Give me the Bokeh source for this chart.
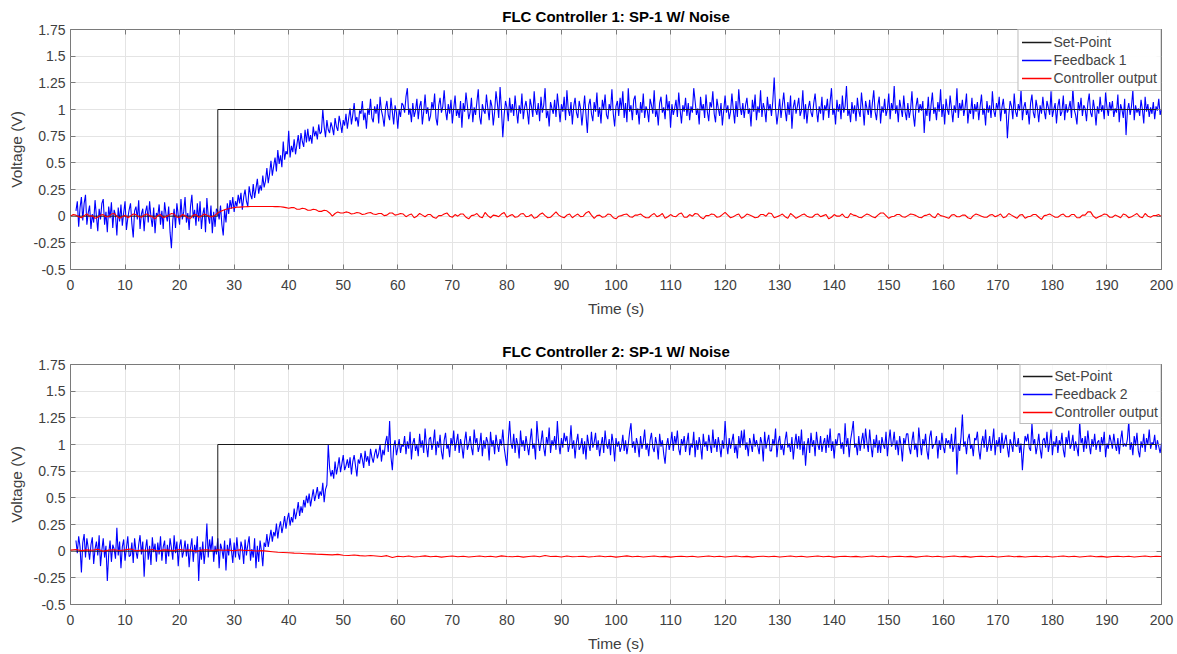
import numpy as np
from bokeh.plotting import figure
from bokeh.models import LinearAxis, FixedTicker, Legend, LegendItem, Range1d
from bokeh.layouts import column
from bokeh.embed import file_html
from bokeh.resources import INLINE

# ---------------- data ----------------
x_ticks = list(range(0, 201, 10))
y_ticks = [-0.5, -0.25, 0, 0.25, 0.5, 0.75, 1, 1.25, 1.5, 1.75]
y_tick_labels = ["-0.5", "-0.25", "0", "0.25", "0.5", "0.75", "1", "1.25", "1.5", "1.75"]

titles = ["FLC Controller 1: SP-1 W/ Noise", "FLC Controller 2: SP-1 W/ Noise"]
feedback_labels = ["Feedback 1", "Feedback 2"]

setpoint_t = [0, 27, 27, 200]
setpoint_v = [0, 0, 1, 1]

# feedback samples every 0.25 s starting at t = 1 s, in hundredths of a volt
feedback_start = 1.0
feedback_step = 0.25
feedback1 = [
    5, 14, -10, 8, 18, -4, 12, 20, -8, 3,
    10, -12, 2, -6, 15, 0, -14, 7, -3, 12,
    16, -8, 4, -15, 9, -2, 13, -11, 6, 1,
    -18, 8, -5, 11, -9, 3, 14, -13, -2, 6,
    12, -7, -20, 5, 9, -3, 15, -12, 2, 7,
    -14, 4, 10, -6, 14, -1, -10, 8, -16, 3,
    0, 11, -8, 5, -12, 13, 2, -5, 9, -15,
    -30, -4, 7, -11, 12, 1, -8, 16, -3, 4,
    18, -6, 3, -13, 9, 20, -2, 6, -9, 12,
    -5, 14, -12, 2, 8, -15, 17, 0, -7, 10,
    -16, 4, -10, 7, 5, -3, 10, -8, -18, 6,
    -6, 12, 2, 15, 7, 18, 4, 14, 9, 20,
    12, 22, 6, 18, 25, 14, 9, 28, 20, 16,
    30, 17, 26, 35, 21, 29, 24, 38, 27, 33,
    45, 31, 40, 52, 38, 47, 55, 42, 62, 49,
    57, 46, 70, 53, 61, 58, 80, 55, 66, 60,
    72, 58, 67, 76, 63, 78, 70, 65, 81, 69,
    82, 70, 76, 68, 84, 75, 80, 72, 86, 77,
    79, 100, 84, 74, 90, 81, 78, 88, 83, 76,
    92, 84, 80, 94, 87, 78, 90, 85, 96, 82,
    92, 101, 86, 95, 106, 89, 93, 84, 99, 96,
    108, 90, 97, 82, 101, 95, 110, 92, 88, 103,
    96, 105, 87, 112, 99, 93, 84, 101, 108, 95,
    90, 111, 98, 86, 104, 97, 82, 100, 93, 106,
    104, 97, 112, 120, 95, 101, 88, 106, 93, 99,
    110, 91, 103, 108, 86, 98, 114, 96, 102, 89,
    94, 107, 100, 115, 92, 85, 104, 111, 97, 103,
    118, 99, 90, 105, 96, 109, 87, 101, 113, 94,
    100, 92, 108, 83, 106, 98, 116, 104, 91, 97,
    111, 88, 102, 95, 107, 119, 93, 86, 105, 99,
    96, 114, 101, 90, 109, 103, 85, 98, 117, 106,
    92, 121, 100, 74, 95, 108, 102, 89, 111, 97,
    105, 94, 113, 99, 87, 104, 96, 115, 91, 102,
    108, 98, 86, 110, 103, 93, 117, 100, 95, 106,
    89, 112, 97, 104, 120, 92, 99, 84, 107, 101,
    96, 109, 93, 115, 102, 88, 105, 98, 112, 90,
    118, 100, 94, 107, 86, 103, 111, 97, 92, 108,
    101, 85, 99, 113, 95, 78, 104, 110, 96, 89,
    107, 98, 116, 93, 102, 87, 109, 100, 114, 95,
    91, 105, 99, 119, 96, 84, 103, 108, 94, 111,
    100, 117, 92, 106, 88, 120, 98, 104, 90, 109,
    113, 95, 101, 86, 107, 97, 115, 92, 103, 99,
    88, 110, 104, 96, 118, 93, 100, 85, 106, 112,
    97, 102, 91, 114, 99, 108, 83, 105, 95, 101,
    109, 93, 116, 100, 87, 104, 98, 111, 94, 106,
    90, 103, 97, 120, 108, 95, 101, 86, 112, 99,
    105, 92, 114, 98, 89, 107, 102, 117, 96, 88,
    110, 101, 94, 106, 85, 99, 113, 97, 104, 91,
    98, 115, 100, 87, 108, 93, 119, 102, 95, 106,
    92, 104, 111, 96, 101, 84, 109, 98, 114, 90,
    103, 97, 118, 93, 106, 100, 88, 112, 99, 105,
    94, 108, 130, 101, 86, 97, 110, 92, 104, 116,
    100, 89, 107, 95, 113, 82, 102, 109, 96, 103,
    111, 94, 99, 118, 91, 105, 87, 101, 108, 97,
    93, 106, 115, 100, 88, 103, 96, 112, 90, 104,
    99, 110, 92, 107, 120, 95, 101, 86, 109, 98,
    105, 91, 113, 97, 103, 122, 94, 100, 88, 107,
    96, 104, 89, 111, 99, 93, 116, 102, 85, 108,
    101, 95, 109, 92, 106, 118, 98, 90, 104, 112,
    87, 103, 97, 110, 94, 100, 115, 91, 106, 99,
    122, 96, 104, 88, 109, 101, 93, 113, 98, 90,
    106, 92, 100, 117, 95, 84, 103, 111, 97, 105,
    99, 108, 78, 101, 94, 112, 89, 104, 116, 96,
    102, 90, 107, 98, 119, 93, 105, 86, 110, 100,
    95, 113, 101, 88, 104, 97, 120, 92, 106, 99,
    109, 94, 102, 115, 87, 100, 96, 111, 91, 105,
    98, 107, 90, 103, 114, 95, 101, 85, 108, 97,
    104, 92, 117, 99, 93, 106, 100, 112, 89, 102,
    110, 96, 101, 73, 94, 108, 103, 91, 115, 98,
    93, 105, 99, 118, 90, 102, 107, 95, 100, 86,
    106, 114, 97, 92, 109, 101, 88, 104, 96, 112,
    99, 91, 108, 102, 95, 117, 93, 100, 106, 87,
    103, 110, 94, 98, 113, 90, 105, 97, 101, 108,
    92, 120, 100, 95, 86, 107, 99, 111, 94, 104,
    101, 89, 106, 115, 97, 93, 109, 100, 85, 103,
    96, 112, 98, 104, 91, 116, 102, 94, 107, 99,
    108, 93, 101, 97, 114, 88, 105, 100, 92, 110,
    76, 99, 106, 95, 103, 118, 90, 104, 97, 101,
    94, 109, 100, 87, 112, 98, 105, 93, 102, 96,
    107, 91, 103, 99, 110, 95, 100,
]
feedback2 = [
    10, -2, 14, 4, -20, 8, 16, -6, 12, 3,
    -8, 6, 13, -12, 2, 9, -4, 15, -14, 1,
    12, -6, 5, -28, -3, 10, -10, 6, 2, -7,
    22, -4, 9, -16, 4, 11, -9, 3, 14, -5,
    -4, 8, -11, 12, 0, -7, 6, 15, -3, 9,
    -24, 2, 11, -8, 5, -13, 13, -1, 7, -10,
    8, -3, 14, -9, 4, 10, -12, 6, -5, 12,
    3, -8, 15, -2, 9, -14, 5, 11, -6, 0,
    10, -5, 7, -15, 3, 12, -10, 6, -2, 14,
    -28, 4, -8, 9, -12, 2, 26, -6, 11, 0,
    14, -10, 5, -3, 12, -16, 7, 2, -7, 10,
    -18, 6, -4, 12, 1, -11, 8, -6, 13, -2,
    -8, 9, 3, -12, 11, -4, 6, 14, -9, 2,
    -6, 12, -16, 5, -10, 10, 0, -14, 8, 4,
    16, 4, 12, 20, 9, 18, 14, 26, 12, 22,
    28, 17, 24, 33, 21, 30, 36, 24, 32, 27,
    40, 30, 37, 46, 33, 42, 36, 48, 41, 52,
    45, 54, 42, 50, 58, 47, 53, 60, 49, 56,
    52, 64, 46, 58, 62, 100, 78, 70, 76, 68,
    84, 72, 79, 88, 74, 82, 90, 76, 80, 86,
    78, 88, 72, 84, 90, 80, 70, 86, 82, 92,
    86, 78, 94, 84, 89, 80, 96, 88, 83, 91,
    96, 87, 92, 100, 84, 95, 90, 102, 108, 93,
    122, 88, 76, 98, 104, 90, 97, 105, 92, 100,
    98, 108, 91, 103, 96, 112, 86, 101, 106, 94,
    100, 89, 110, 97, 104, 92, 115, 99, 88, 105,
    107, 95, 101, 114, 90, 103, 97, 109, 93, 86,
    104, 111, 96, 100, 88, 106, 99, 113, 94, 102,
    110, 92, 105, 98, 87, 103, 112, 95, 100, 108,
    97, 90, 114, 101, 106, 93, 99, 111, 89, 104,
    96, 107, 102, 85, 112, 98, 104, 91, 109, 100,
    93, 105, 99, 114, 97, 88, 80, 104, 122, 101,
    96, 110, 92, 106, 100, 87, 113, 98, 104, 94,
    108, 99, 90, 103, 115, 96, 101, 86, 122, 105,
    94, 102, 113, 97, 89, 107, 100, 116, 92, 104,
    99, 108, 95, 122, 101, 91, 106, 97, 111, 103,
    108, 93, 100, 118, 96, 104, 87, 102, 110, 95,
    98, 106, 91, 103, 86, 109, 100, 94, 112, 97,
    102, 111, 95, 104, 89, 99, 107, 92, 113, 100,
    96, 105, 90, 110, 101, 84, 106, 98, 103, 93,
    98, 109, 94, 104, 91, 100, 112, 120, 97, 103,
    92, 106, 100, 88, 108, 96, 102, 114, 95, 101,
    89, 104, 111, 97, 93, 107, 100, 86, 110, 98,
    104, 91, 82, 99, 106, 95, 101, 112, 94, 108,
    100, 113, 96, 90, 105, 99, 108, 93, 102, 111,
    90, 101, 97, 112, 88, 104, 95, 107, 99, 86,
    110, 98, 103, 94, 109, 100, 92, 114, 97, 105,
    93, 107, 99, 88, 104, 96, 122, 101, 91, 106,
    96, 103, 110, 92, 100, 87, 108, 97, 113, 99,
    114, 95, 102, 89, 106, 100, 93, 110, 98, 104,
    98, 91, 107, 101, 84, 112, 96, 103, 109, 94,
    94, 105, 99, 115, 88, 102, 108, 95, 100, 90,
    104, 112, 97, 101, 93, 107, 86, 100, 110, 96,
    108, 95, 114, 90, 103, 80, 99, 106, 92, 111,
    98, 104, 89, 112, 100, 95, 108, 93, 101, 106,
    92, 109, 97, 115, 94, 103, 87, 105, 99, 110,
    110, 96, 102, 91, 120, 98, 106, 88, 104, 112,
    122, 97, 101, 90, 108, 94, 103, 111, 96, 115,
    102, 93, 114, 99, 88, 105, 97, 109, 92, 104,
    92, 107, 100, 96, 112, 89, 103, 114, 98, 101,
    112, 95, 104, 90, 108, 99, 84, 106, 100, 110,
    110, 97, 91, 103, 112, 95, 101, 88, 116, 102,
    90, 105, 99, 110, 94, 86, 107, 113, 96, 100,
    100, 108, 87, 104, 95, 111, 98, 92, 106, 101,
    104, 96, 110, 93, 99, 116, 72, 101, 94, 107,
    128, 98, 103, 91, 105, 110, 96, 100, 89, 106,
    104, 112, 95, 86, 101, 108, 97, 114, 93, 99,
    108, 94, 102, 115, 90, 104, 98, 107, 92, 111,
    96, 103, 109, 97, 88, 105, 100, 93, 112, 99,
    98, 106, 92, 101, 76, 95, 108, 103, 110, 97,
    94, 120, 100, 105, 91, 99, 110, 96, 87, 104,
    106, 97, 112, 93, 101, 114, 90, 103, 98, 108,
    92, 104, 99, 111, 95, 88, 107, 100, 113, 96,
    100, 109, 94, 103, 97, 89, 122, 101, 106, 93,
    108, 96, 113, 100, 91, 105, 98, 110, 95, 102,
    104, 93, 107, 99, 112, 88, 101, 96, 109, 103,
    96, 110, 100, 94, 106, 91, 104, 113, 98, 101,
    98, 105, 122, 95, 102, 90, 108, 99, 111, 94,
    88, 103, 97, 110, 93, 106, 100, 114, 96, 102,
    100, 109, 95, 104, 98, 92, 101,
]

# controller output 1 every 0.5 s starting at t = 0 s, in thousandths of a volt
control1_start = 0.0
control1_step = 0.5
control1 = [
    0, 15, 10, -5, -15, 5, 20, 0, 5, -20, -10, 10, 15, -5, -5, 20, 25, 0, -20, -5,
    10, -15, 0, 20, 15, -5, -10, 10, 20, 5, -5, -25, 5, 15, -15, -5, 10, 25, 20, -10,
    -10, 15, 5, -15, -20, 10, 15, -10, 0, 20, 10, -5, -5, 10, 30, 45, 55, 65, 70, 76,
    80, 83, 85, 87, 88, 89, 90, 90, 90, 91, 90, 90, 90, 90, 90, 89, 90, 88, 85, 80,
    75, 80, 80, 65, 65, 75, 70, 55, 55, 65, 60, 45, 45, 55, 50, 30, 0, 25, 40, 30,
    30, 40, 35, 20, 25, 35, 30, 15, 20, 30, 35, 20, 15, 25, 25, 5, 10, 30, 30, 10,
    15, 25, 20, -5, 10, 20, -15, 0, 25, 10, -5, 15, 15, -10, -20, 5, 5, 20, 30, 0,
    -10, 15, 0, 20, 20, -10, -25, 5, 10, 25, -5, -15, 35, 5, -15, 10, 5, -5, 20, 35,
    -10, 5, 15, -10, -5, 20, 25, -5, 0, 15, -20, -10, 15, 30, 5, -15, -10, 15, 40, 10,
    -5, -15, 10, 20, -15, 5, 20, -5, 0, 30, 45, 10, -20, 5, 10, -10, -5, 20, 15, -15,
    -25, 0, 5, 15, 20, -5, -10, 10, 10, 20, 0, -15, -15, 10, 25, -5, 5, 25, -20, -5,
    15, 0, -5, 20, 30, -10, -10, 15, 0, 25, 20, -10, -25, 5, 5, 20, 15, -10, -5, 15,
    35, 10, -15, -5, 10, 20, -20, -5, 20, 10, 0, -15, -10, 15, 15, 0, 30, 25, -15, -5,
    5, 20, -5, -20, 25, 5, -20, -5, 10, 20, 0, -10, -10, 15, 20, -5, 5, 15, -25, -10,
    15, 0, 0, 20, -10, -15, 25, 10, 5, -10, -15, 5, 20, 10, -5, -15, 10, 30, 30, 5,
    -20, -5, 0, 15, 15, -5, -10, 5, 20, 15, 5, -10, -15, 5, 10, 20, -5, -15, 25, 5,
    0, -10, -20, 10, 15, -5, -5, 10, 10, -15, -25, 5, 20, 10, 0, -10, -10, 10, 15, -5,
    5, 20, -15, -5, 25, 10, -5, -20, 10, 15, -20, -5, 0, 15, 15, -10, -30, 5, 10, 20,
    5, -10, -10, 10, 20, -5, -5, 15, 15, -15, -15, 10, 10, 40, 40, 0, -20, -5, 5, 20,
    15, -10, -10, 10, 0, -15, 20, 10, -15, -5, 10, 25, -5, -15, 25, 0, -10, 5, 5, 15,
    -5,
]

# controller output 2 every 1 s starting at t = 0 s, in thousandths of a volt
control2_start = 0.0
control2_step = 1.0
control2 = [
    10, 15, 5, 12, 8, 18, 0, 10, 14, 6, 12, 20, 4, 10, 8, 15, 2, 12, 10, 6,
    16, 8, 12, 0, 10, 14, 6, 12, 8, 10, 4, 12, 6, 8, 2, 5,
    0, -5, -10, -12, -15, -18, -20, -24, -25, -28, -30, -32, -35, -30, -38, -40, -36, -42, -45, -40,
    -45, -50, -42, -60, -48, -52, -46, -55, -50, -44, -52, -48, -56, -50, -45, -52, -48, -55, -50, -46,
    -52, -48, -55, -44, -50, -53, -47, -56, -50, -45, -52, -40, -50, -48, -55, -46, -52, -50, -47, -54,
    -50, -45, -52, -48, -56, -50, -44, -52, -48, -55, -50, -46, -53, -49, -56, -50, -47, -52, -48, -54,
    -50, -46, -52, -48, -55, -50, -45, -52, -49, -56, -50, -47, -53, -48, -54, -50, -46, -52, -48, -55,
    -50, -45, -52, -48, -56, -50, -47, -53, -49, -55, -50, -46, -52, -48, -54, -50, -47, -53, -49, -56,
    -50, -46, -52, -48, -55, -50, -45, -53, -49, -56, -50, -47, -52, -48, -54, -50, -46, -52, -49, -55,
    -50, -47, -53, -48, -54, -50, -45, -52, -48, -55, -50, -46, -53, -49, -56, -50, -47, -52, -48, -54,
    -50, -46, -52, -48, -50,
]

# ---------------- styling ----------------
FONT = "Liberation Sans"
AXIS_COLOR = "#7a7a7a"
TEXT_COLOR = "#404040"
GRID_COLOR = "#e4e4e4"
SP_COLOR = "#1a1a1a"
FB_COLOR = "#0000ff"
CTRL_COLOR = "#ff0000"


def style_axis(ax, show_labels):
    ax.major_tick_in = 5
    ax.major_tick_out = 0
    ax.minor_tick_line_color = None
    ax.major_tick_line_color = AXIS_COLOR
    ax.axis_line_color = None
    ax.major_label_text_font = FONT
    ax.axis_label_text_font = FONT
    ax.axis_label_text_color = TEXT_COLOR
    ax.axis_label_text_font_style = "normal"
    if show_labels:
        ax.major_label_text_color = TEXT_COLOR
        ax.major_label_text_font_size = "14px"
        ax.axis_label_text_font_size = "15.5px"
    else:
        ax.major_label_text_color = None
        ax.major_label_text_font_size = "1px"
        ax.major_label_standoff = 0


def make_panel(idx, fb, ctrl, c_start, c_step, legend_padding):
    p = figure(width=1177, height=319, output_backend="svg", toolbar_location=None,
               x_range=Range1d(0, 200), y_range=Range1d(-0.5, 1.75),
               min_border_left=70, min_border_right=16,
               min_border_top=29, min_border_bottom=50,
               title=titles[idx])
    p.title.align = "center"
    p.title.text_font = FONT
    p.title.text_font_size = "15px"
    p.title.text_font_style = "bold"
    p.title.text_color = "#000000"
    p.title.standoff = 9
    p.background_fill_color = "white"
    p.border_fill_color = "white"
    p.outline_line_color = AXIS_COLOR
    p.outline_line_width = 1

    xt = FixedTicker(ticks=x_ticks)
    yt = FixedTicker(ticks=y_ticks)
    overrides = {v: s for v, s in zip(y_ticks, y_tick_labels)}

    p.xaxis.ticker = xt
    p.yaxis.ticker = yt
    p.yaxis.major_label_overrides = overrides
    p.xaxis.axis_label = "Time (s)"
    p.yaxis.axis_label = "Voltage (V)"
    for ax in p.xaxis + p.yaxis:
        style_axis(ax, True)
    p.xaxis.major_label_standoff = 10
    p.xaxis.axis_label_standoff = 7
    p.yaxis.major_label_standoff = 5
    p.yaxis.axis_label_standoff = 6

    top_ax = LinearAxis(ticker=FixedTicker(ticks=x_ticks))
    right_ax = LinearAxis(ticker=FixedTicker(ticks=y_ticks))
    style_axis(top_ax, False)
    style_axis(right_ax, False)
    p.add_layout(top_ax, "above")
    p.add_layout(right_ax, "right")

    p.xgrid.ticker = xt
    p.ygrid.ticker = yt
    p.xgrid.grid_line_color = GRID_COLOR
    p.ygrid.grid_line_color = GRID_COLOR

    fb_t = feedback_start + feedback_step * np.arange(len(fb))
    fb_v = np.array(fb) / 100.0
    c_t = c_start + c_step * np.arange(len(ctrl))
    c_v = np.array(ctrl) / 1000.0

    r_fb = p.line(fb_t, fb_v, line_color=FB_COLOR, line_width=1.1)
    r_sp = p.line(setpoint_t, setpoint_v, line_color=SP_COLOR, line_width=1)
    r_c = p.line(c_t, c_v, line_color=CTRL_COLOR, line_width=1.1)

    # legend swatches: one-sample lines (a one-point line draws nothing),
    # slightly heavier so the thin coloured strokes keep their hue
    k_sp = p.line(setpoint_t[:1], setpoint_v[:1], line_color=SP_COLOR, line_width=1.3)
    k_fb = p.line(fb_t[:1], fb_v[:1], line_color=FB_COLOR, line_width=1.3)
    k_c = p.line(c_t[:1], c_v[:1], line_color=CTRL_COLOR, line_width=1.3)

    legend = Legend(items=[
        LegendItem(label="Set-Point", renderers=[k_sp]),
        LegendItem(label=feedback_labels[idx], renderers=[k_fb]),
        LegendItem(label="Controller output", renderers=[k_c]),
    ], location="top_right", margin=0, padding=legend_padding, spacing=0,
        label_height=18, glyph_height=18, glyph_width=30, label_standoff=2,
        label_text_font=FONT, label_text_font_size="14px",
        border_line_color=AXIS_COLOR)
    p.add_layout(legend)
    return p


p1 = make_panel(0, feedback1, control1, control1_start, control1_step, 3)
p2 = make_panel(1, feedback2, control2, control2_start, control2_step, 2)
layout = column(p1, p2, spacing=16)

with open("out.html", "w") as f:
    f.write(file_html(layout, INLINE))
